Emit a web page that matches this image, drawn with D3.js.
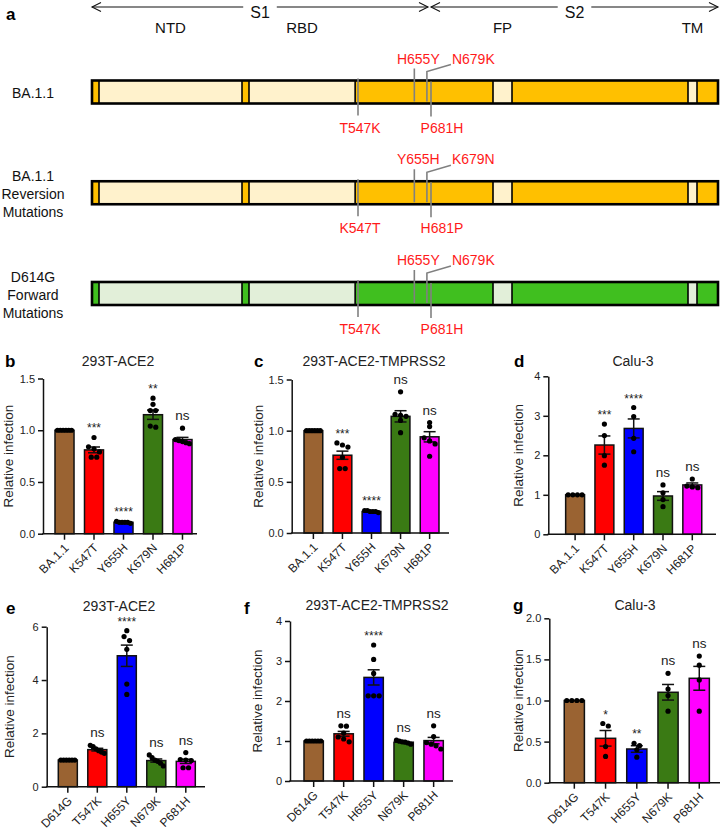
<!DOCTYPE html>
<html><head><meta charset="utf-8">
<script src="https://cdn.jsdelivr.net/npm/d3@7"></script>
<style>
body{margin:0;background:#fff}
svg text{font-family:"Liberation Sans",Arial,Helvetica,sans-serif}
</style>
</head><body>
<script>
// ================= DATA =================
// Panel a: spike construct schematic
const constructLabels = [["BA.1.1"], ["BA.1.1", "Reversion", "Mutations"], ["D614G", "Forward", "Mutations"]];
const subunitLabels = ["S1", "S2"];
const subunitResidues = [[1, 681], [681, 1273]];
const regionLabels = ["NTD", "RBD", "FP", "TM"];
const regionResidues = [[14, 305], [319, 541], [788, 806], [1213, 1237]];
const mutationSites = [547, 655, 679, 681];
const mutationNames = [
  ["T547K", "H655Y", "N679K", "P681H"],
  ["K547T", "Y655H", "K679N", "H681P"],
  ["T547K", "H655Y", "N679K", "P681H"]
];
const constructFill = ["#ffc000", "#ffc000", "#40bf1f"];
const constructLight = ["#fff2cc", "#fff2cc", "#e2efd9"];

// Panels b-g
const variantsTop = ["BA.1.1", "K547T", "Y655H", "K679N", "H681P"];
const variantsBottom = ["D614G", "T547K", "H655Y", "N679K", "P681H"];
const barColors = ["#9a6332", "#ff0000", "#0000ff", "#3a7a14", "#ff00ff"];

const bMeans = [1.0, 0.81, 0.11, 1.15, 0.91];
const bSems = [0, 0.028, 0.005, 0.045, 0.021];
const bPoints = [[1, 1, 1, 1, 1, 1], [0.93, 0.84, 0.82, 0.79, 0.74, 0.74], [0.12, 0.11, 0.11, 0.11, 0.10, 0.11], [1.31, 1.25, 1.19, 1.19, 1.04, 1.03], [1.02, 0.90, 0.91, 0.88, 0.87, 0.89]];
const bSig = ["", "***", "****", "**", "ns"];
const bTicks = [0, 0.5, 1.0, 1.5];

const cMeans = [1.0, 0.76, 0.21, 1.14, 0.94];
const cSems = [0, 0.04, 0.005, 0.055, 0.05];
const cPoints = [[1, 1, 1, 1, 1, 1], [0.88, 0.86, 0.84, 0.74, 0.63, 0.63], [0.22, 0.22, 0.21, 0.21, 0.21, 0.20], [1.38, 1.16, 1.15, 1.14, 1.10, 0.98], [1.08, 1.04, 0.93, 0.90, 0.87, 0.75]];
const cSig = ["", "***", "****", "ns", "ns"];
const cTicks = [0, 0.5, 1.0, 1.5];

const dMeans = [1.0, 2.26, 2.68, 0.97, 1.25];
const dSems = [0, 0.23, 0.24, 0.11, 0.05];
const dPoints = [[1, 1, 1, 1], [2.79, 2.50, 1.99, 1.75], [3.21, 2.98, 2.43, 2.09], [1.25, 1.05, 0.88, 0.70], [1.40, 1.22, 1.20, 1.18]];
const dSig = ["", "***", "****", "ns", "ns"];
const dTicks = [0, 1, 2, 3, 4];

const eMeans = [1.0, 1.39, 4.91, 0.98, 0.95];
const eSems = [0, 0.05, 0.40, 0.06, 0.08];
const ePoints = [[1, 1, 1, 1, 1, 1], [1.55, 1.50, 1.42, 1.35, 1.30, 1.25], [5.85, 5.63, 5.48, 5.15, 3.85, 3.46], [1.19, 1.09, 1.00, 0.95, 0.88, 0.78], [1.28, 1.02, 1.00, 0.98, 0.71, 0.71]];
const eSig = ["", "ns", "****", "ns", "ns"];
const eTicks = [0, 2, 4, 6];

const fMeans = [1.0, 1.18, 2.59, 0.97, 1.01];
const fSems = [0, 0.06, 0.19, 0.015, 0.08];
const fPoints = [[1, 1, 1, 1, 1, 1], [1.38, 1.37, 1.20, 1.10, 1.05, 0.98], [3.40, 3.04, 2.69, 2.13, 2.13, 2.13], [1.02, 1.00, 0.98, 0.97, 0.95, 0.92], [1.38, 1.11, 0.96, 0.92, 0.88, 0.80]];
const fSig = ["", "ns", "****", "ns", "ns"];
const fTicks = [0, 1, 2, 3, 4];

const gMeans = [1.0, 0.54, 0.41, 1.10, 1.27];
const gSems = [0, 0.095, 0.04, 0.095, 0.145];
const gPoints = [[1, 1, 1, 1], [0.72, 0.69, 0.44, 0.32], [0.48, 0.45, 0.40, 0.31], [1.33, 1.14, 1.06, 0.87], [1.54, 1.43, 1.25, 0.87]];
const gSig = ["", "*", "**", "ns", "ns"];
const gTicks = [0, 0.5, 1.0, 1.5, 2.0];

const yTitle = "Relative infection";

// ================= DRAWING =================
const svg = d3.select("body").append("svg").attr("width", 720).attr("height", 832).style("display", "block");
const RED = "#ff1a1a";

// ---------- panel a ----------
svg.append("text").attr("x", 6).attr("y", 20).attr("font-size", 17).attr("font-weight", "bold").text("a");

const xRes = d3.scaleLinear()
  .domain([1, 14, 305, 319, 547, 681, 788, 806, 1213, 1237, 1273])
  .range([92, 99, 242, 249, 358, 431, 493, 512, 688, 697, 718]);

const arrowY = 7;
subunitLabels.forEach((lab, i) => {
  const xa = xRes(subunitResidues[i][0]);
  const xb = xRes(subunitResidues[i][1]) - (i === 0 ? 3 : 0);
  const cx = (xa + xb) / 2;
  const t = svg.append("text").attr("x", cx).attr("y", arrowY + 11).attr("text-anchor", "middle")
    .attr("font-size", 16).attr("fill", "#111").text(lab);
  const half = t.node().getComputedTextLength() / 2 + 7;
  const g = svg.append("g").attr("stroke", "#111").attr("stroke-width", 1.1).attr("fill", "none");
  g.append("line").attr("x1", xa).attr("x2", cx - half).attr("y1", arrowY).attr("y2", arrowY);
  g.append("line").attr("x1", cx + half).attr("x2", xb).attr("y1", arrowY).attr("y2", arrowY);
  g.append("path").attr("d", `M${xa + 9},${arrowY - 4.5}L${xa},${arrowY}L${xa + 9},${arrowY + 4.5}`);
  g.append("path").attr("d", `M${xb - 9},${arrowY - 4.5}L${xb},${arrowY}L${xb - 9},${arrowY + 4.5}`);
});
regionLabels.forEach((lab, i) => {
  svg.append("text").attr("x", (xRes(regionResidues[i][0]) + xRes(regionResidues[i][1])) / 2)
    .attr("y", 33).attr("text-anchor", "middle").attr("font-size", 15).attr("fill", "#111").text(lab);
});

const rowY = d3.scaleLinear().domain([0, 2]).range([80.5, 282]);
const barH = 23;
const siteStyle = [
  {side: "below", nudge: 0, top: -2, bottom: 12, anchor: "middle", ldx: 2},
  {side: "above", nudge: -2.5, top: -12, bottom: -2, anchor: "middle", ldx: 4},
  {side: "above", nudge: -3, kink: true, anchor: "start", ldx: 25},
  {side: "below", nudge: 0, top: 1, bottom: 13, anchor: "middle", ldx: 11}
];

constructLabels.forEach((lines, i) => {
  const y0 = rowY(i), y1 = y0 + barH, cy = (y0 + y1) / 2;
  lines.forEach((t, j) => {
    svg.append("text").attr("x", 33).attr("y", cy + 1 + (j - (lines.length - 1) / 2) * 18 + 5)
      .attr("text-anchor", "middle").attr("font-size", 14).attr("fill", "#111").text(t);
  });
  svg.append("rect").attr("x", xRes(1)).attr("y", y0).attr("width", xRes(1273) - xRes(1)).attr("height", barH)
    .attr("fill", constructFill[i]).attr("stroke", "#000").attr("stroke-width", 2.6);
  regionResidues.forEach(r => {
    svg.append("rect").attr("x", xRes(r[0])).attr("y", y0 + 0.5).attr("width", xRes(r[1]) - xRes(r[0]))
      .attr("height", barH - 1).attr("fill", constructLight[i]).attr("stroke", "#000").attr("stroke-width", 1.6);
  });
  mutationSites.forEach((s, k) => {
    const st = siteStyle[k];
    const x = xRes(s) + st.nudge;
    const name = mutationNames[i][k];
    if (st.kink) {
      svg.append("path").attr("d", `M${x},${y1 - 2}L${x},${y0 - 9}L${x + 24},${y0 - 16}`)
        .attr("fill", "none").attr("stroke", "#808080").attr("stroke-width", 1.6);
    } else {
      svg.append("line").attr("x1", x).attr("x2", x).attr("y1", y0 + st.top).attr("y2", y1 + st.bottom)
        .attr("stroke", "#808080").attr("stroke-width", 1.6);
    }
    svg.append("text").attr("x", x + st.ldx).attr("y", st.side === "above" ? y0 - 17 : y1 + 29)
      .attr("text-anchor", st.anchor).attr("font-size", 14).attr("fill", RED).text(name);
  });
});

// ---------- panels b-g ----------
const panels = [
  {letter: "b", title: "293T-ACE2", variants: variantsTop, means: bMeans, sems: bSems, points: bPoints, sig: bSig, ticks: bTicks, fmt: ".1f",
   L: {axisX: 43, axisEnd: 197, bandStart: 49.1, bandEnd: 197.9, yBottom: 533.7, yTop: 378.5, letterX: 5, letterY: 367, titleX: 118, titleY: 366, yLabelX: 8}},
  {letter: "c", title: "293T-ACE2-TMPRSS2", variants: variantsTop, means: cMeans, sems: cSems, points: cPoints, sig: cSig, ticks: cTicks, fmt: ".1f",
   L: {axisX: 291.7, axisEnd: 449, bandStart: 298.2, bandEnd: 444.8, yBottom: 533, yTop: 379.5, letterX: 254, letterY: 367, titleX: 374, titleY: 366, yLabelX: 258}},
  {letter: "d", title: "Calu-3", variants: variantsTop, means: dMeans, sems: dSems, points: dPoints, sig: dSig, ticks: dTicks, fmt: "d",
   L: {axisX: 548.3, axisEnd: 716, bandStart: 559.8, bandEnd: 707.6, yBottom: 534.3, yTop: 376.3, letterX: 514, letterY: 367, titleX: 633, titleY: 366, yLabelX: 517.6}},
  {letter: "e", title: "293T-ACE2", variants: variantsBottom, means: eMeans, sems: eSems, points: ePoints, sig: eSig, ticks: eTicks, fmt: "d",
   L: {axisX: 46.7, axisEnd: 205, bandStart: 52.4, bandEnd: 201.2, yBottom: 786.7, yTop: 626.7, letterX: 6, letterY: 614, titleX: 119, titleY: 611, yLabelX: 8.5}},
  {letter: "f", title: "293T-ACE2-TMPRSS2", variants: variantsBottom, means: fMeans, sems: fSems, points: fPoints, sig: fSig, ticks: fTicks, fmt: "d",
   L: {axisX: 290, axisEnd: 453, bandStart: 298, bandEnd: 449.3, yBottom: 781, yTop: 621, letterX: 244, letterY: 614, titleX: 377, titleY: 610, yLabelX: 257}},
  {letter: "g", title: "Calu-3", variants: variantsBottom, means: gMeans, sems: gSems, points: gPoints, sig: gSig, ticks: gTicks, fmt: ".1f",
   L: {axisX: 549.3, axisEnd: 720, bandStart: 558, bandEnd: 715.6, yBottom: 782.7, yTop: 618.3, letterX: 513, letterY: 611, titleX: 635, titleY: 610, yLabelX: 517.5}}
];

function spread(vals, y, bw) {
  const idx = vals.map((v, i) => i).sort((a, b) => vals[b] - vals[a]);
  const off = new Array(vals.length).fill(0);
  const groups = [];
  let cur = [idx[0]];
  for (let k = 1; k < idx.length; k++) {
    if (Math.abs(y(vals[idx[k]]) - y(vals[idx[k - 1]])) < 4) cur.push(idx[k]);
    else { groups.push(cur); cur = [idx[k]]; }
  }
  groups.push(cur);
  groups.forEach(gr => {
    const n = gr.length;
    if (n < 2) return;
    const sp = Math.min(5.5, (bw - 5) / (n - 1));
    gr.forEach((id, j) => off[id] = (j - (n - 1) / 2) * sp);
  });
  return off;
}

panels.forEach(p => {
  const L = p.L;
  const g = svg.append("g");
  const x = d3.scaleBand().domain(p.variants).range([L.bandStart, L.bandEnd]).paddingInner(0.355).paddingOuter(0.2);
  const y = d3.scaleLinear().domain([0, d3.max(p.ticks)]).range([L.yBottom, L.yTop]);
  const bw = x.bandwidth();

  g.append("text").attr("x", L.letterX).attr("y", L.letterY).attr("font-size", 17).attr("font-weight", "bold").text(p.letter);
  g.append("text").attr("x", L.titleX).attr("y", L.titleY).attr("text-anchor", "middle").attr("font-size", 14).attr("fill", "#222").text(p.title);

  // bars
  g.selectAll("rect.bar").data(p.variants).join("rect").attr("class", "bar")
    .attr("x", d => x(d)).attr("width", bw)
    .attr("y", (d, i) => y(p.means[i])).attr("height", (d, i) => y(0) - y(p.means[i]))
    .attr("fill", (d, i) => barColors[i]).attr("stroke", "#111").attr("stroke-width", 1.5);

  // error bars
  p.variants.forEach((v, i) => {
    if (!p.sems[i]) return;
    const cx = x(v) + bw / 2, hi = y(p.means[i] + p.sems[i]), lo = y(p.means[i] - p.sems[i]);
    const eg = g.append("g").attr("stroke", "#111").attr("stroke-width", 1.5);
    eg.append("line").attr("x1", cx).attr("x2", cx).attr("y1", hi).attr("y2", lo);
    eg.append("line").attr("x1", cx - 6).attr("x2", cx + 6).attr("y1", hi).attr("y2", hi);
    eg.append("line").attr("x1", cx - 6).attr("x2", cx + 6).attr("y1", lo).attr("y2", lo);
  });

  // points
  p.variants.forEach((v, i) => {
    const cx = x(v) + bw / 2;
    const off = spread(p.points[i], y, bw);
    g.selectAll(null).data(p.points[i]).join("circle")
      .attr("cx", (d, j) => cx + off[j]).attr("cy", d => y(d)).attr("r", 2.6).attr("fill", "#000");
  });

  // significance labels
  p.variants.forEach((v, i) => {
    if (!p.sig[i]) return;
    const cx = x(v) + bw / 2;
    const top = Math.min(y(d3.max(p.points[i])), y(p.means[i] + p.sems[i]));
    const center = top - 11.5;
    const isNs = p.sig[i] === "ns";
    g.append("text").attr("x", cx).attr("y", isNs ? center + 3.6 : center + 6.5)
      .attr("text-anchor", "middle").attr("font-size", isNs ? 13.5 : 12).attr("fill", "#222").text(p.sig[i]);
  });

  // y axis
  const ya = g.append("g").attr("transform", `translate(${L.axisX},0)`)
    .call(d3.axisLeft(y).tickValues(p.ticks).tickFormat(d3.format(p.fmt)).tickSize(5).tickSizeOuter(0).tickPadding(3));
  ya.select(".domain").attr("stroke", "#111").attr("stroke-width", 1.5);
  ya.selectAll(".tick line").attr("stroke", "#111").attr("stroke-width", 1.5);
  ya.selectAll(".tick text").attr("font-size", 11).attr("fill", "#222").attr("font-family", null);

  // x axis
  const xa = g.append("g").attr("transform", `translate(0,${y(0)})`)
    .call(d3.axisBottom(x).tickSize(6).tickSizeOuter(0));
  xa.select(".domain").remove();
  xa.selectAll(".tick line").attr("stroke", "#111").attr("stroke-width", 1.5);
  xa.selectAll(".tick text").attr("font-size", 12).attr("fill", "#222").attr("font-family", null)
    .attr("x", 0).attr("y", 0).attr("dy", "0.35em")
    .attr("transform", "translate(2,12) rotate(-45)").style("text-anchor", "end");
  g.append("line").attr("x1", L.axisX - 0.75).attr("x2", L.axisEnd).attr("y1", y(0)).attr("y2", y(0))
    .attr("stroke", "#111").attr("stroke-width", 1.5);

  // y title
  g.append("text").attr("transform", `translate(${L.yLabelX + 5},${(L.yBottom + L.yTop) / 2}) rotate(-90)`)
    .attr("text-anchor", "middle").attr("font-size", 13.5).attr("fill", "#222").text(yTitle);
});
</script>
</body></html>
